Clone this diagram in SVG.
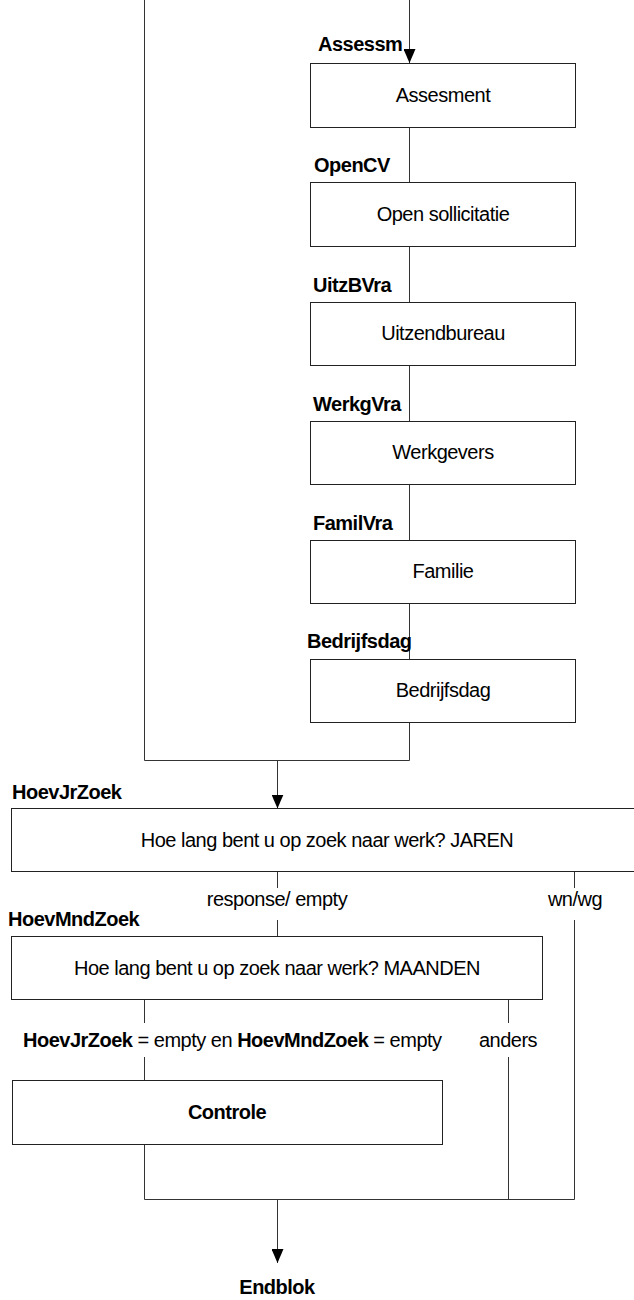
<svg xmlns="http://www.w3.org/2000/svg" width="634" height="1300" viewBox="0 0 634 1300">
<style>
text{font-family:"Liberation Sans",Arial,sans-serif;font-size:20px;letter-spacing:-0.5px;fill:#000}
.b{font-weight:bold}
.c{text-anchor:middle}
.box{fill:#fff;stroke:#222;stroke-width:1}
.ln{fill:none;stroke:#333;stroke-width:1}
</style>
<defs>
<marker id="ah" markerWidth="14" markerHeight="12" refX="14" refY="6" orient="auto" markerUnits="userSpaceOnUse" viewBox="0 0 14 12">
<path d="M0,0 L14,6 L0,12 Z" fill="#000"/>
</marker>
</defs>
<g id="connectors">
<path class="ln" d="M409.5,0 V63" marker-end="url(#ah)"/>
<path class="ln" d="M409.5,127 V182 M409.5,246 V302 M409.5,365 V421 M409.5,484 V540 M409.5,603 V659"/>
<path class="ln" d="M144.5,0 V760.5 H409.5 V722"/>
<path class="ln" d="M277.5,760.5 V808.5" marker-end="url(#ah)"/>
<path class="ln" d="M277.5,872 V888 M277.5,920 V936"/>
<path class="ln" d="M574.5,872 V888 M574.5,920 V1199.5"/>
<path class="ln" d="M144.5,999 V1023 M144.5,1057 V1080 M144.5,1144 V1199.5 H574.5"/>
<path class="ln" d="M508.5,999 V1023 M508.5,1057 V1199.5"/>
<path class="ln" d="M277.5,1199.5 V1263" marker-end="url(#ah)"/>
<text class="c" x="277" y="906">response/ empty</text>
<text class="c" x="575" y="906">wn/wg</text>
<text x="23" y="1047"><tspan class="b">HoevJrZoek</tspan> = empty en <tspan class="b">HoevMndZoek</tspan> = empty</text>
<text class="c" x="508" y="1047">anders</text>
</g>
<g id="assesment">
<text class="b" x="318" y="51">Assessm</text>
<rect class="box" x="310.5" y="63.5" width="265" height="64"/>
<text class="c" x="443" y="102">Assesment</text>
</g>
<g id="opencv">
<text class="b" x="314" y="172">OpenCV</text>
<rect class="box" x="310.5" y="182.5" width="265" height="64"/>
<text class="c" x="443" y="221">Open sollicitatie</text>
</g>
<g id="uitzbvra">
<text class="b" x="313" y="292">UitzBVra</text>
<rect class="box" x="310.5" y="302.5" width="265" height="63"/>
<text class="c" x="443" y="340">Uitzendbureau</text>
</g>
<g id="werkgvra">
<text class="b" x="313" y="411">WerkgVra</text>
<rect class="box" x="310.5" y="421.5" width="265" height="63"/>
<text class="c" x="443" y="459">Werkgevers</text>
</g>
<g id="familvra">
<text class="b" x="313" y="530">FamilVra</text>
<rect class="box" x="310.5" y="540.5" width="265" height="63"/>
<text class="c" x="443" y="578">Familie</text>
</g>
<g id="bedrijfsdag">
<text class="b" x="307" y="648">Bedrijfsdag</text>
<rect class="box" x="310.5" y="659.5" width="265" height="63"/>
<text class="c" x="443" y="697">Bedrijfsdag</text>
</g>
<g id="hoevjrzoek">
<text class="b" x="12" y="799">HoevJrZoek</text>
<rect class="box" x="11.5" y="808.5" width="632" height="63"/>
<text class="c" x="327" y="847">Hoe lang bent u op zoek naar werk? JAREN</text>
</g>
<g id="hoevmndzoek">
<text class="b" x="8" y="926">HoevMndZoek</text>
<rect class="box" x="11.5" y="936.5" width="531" height="63"/>
<text class="c" x="277" y="975">Hoe lang bent u op zoek naar werk? MAANDEN</text>
</g>
<g id="controle">
<rect class="box" x="12.5" y="1080.5" width="430" height="64"/>
<text class="c b" x="227" y="1119">Controle</text>
</g>
<g id="endblok">
<text class="c b" x="277" y="1294">Endblok</text>
</g>
</svg>
